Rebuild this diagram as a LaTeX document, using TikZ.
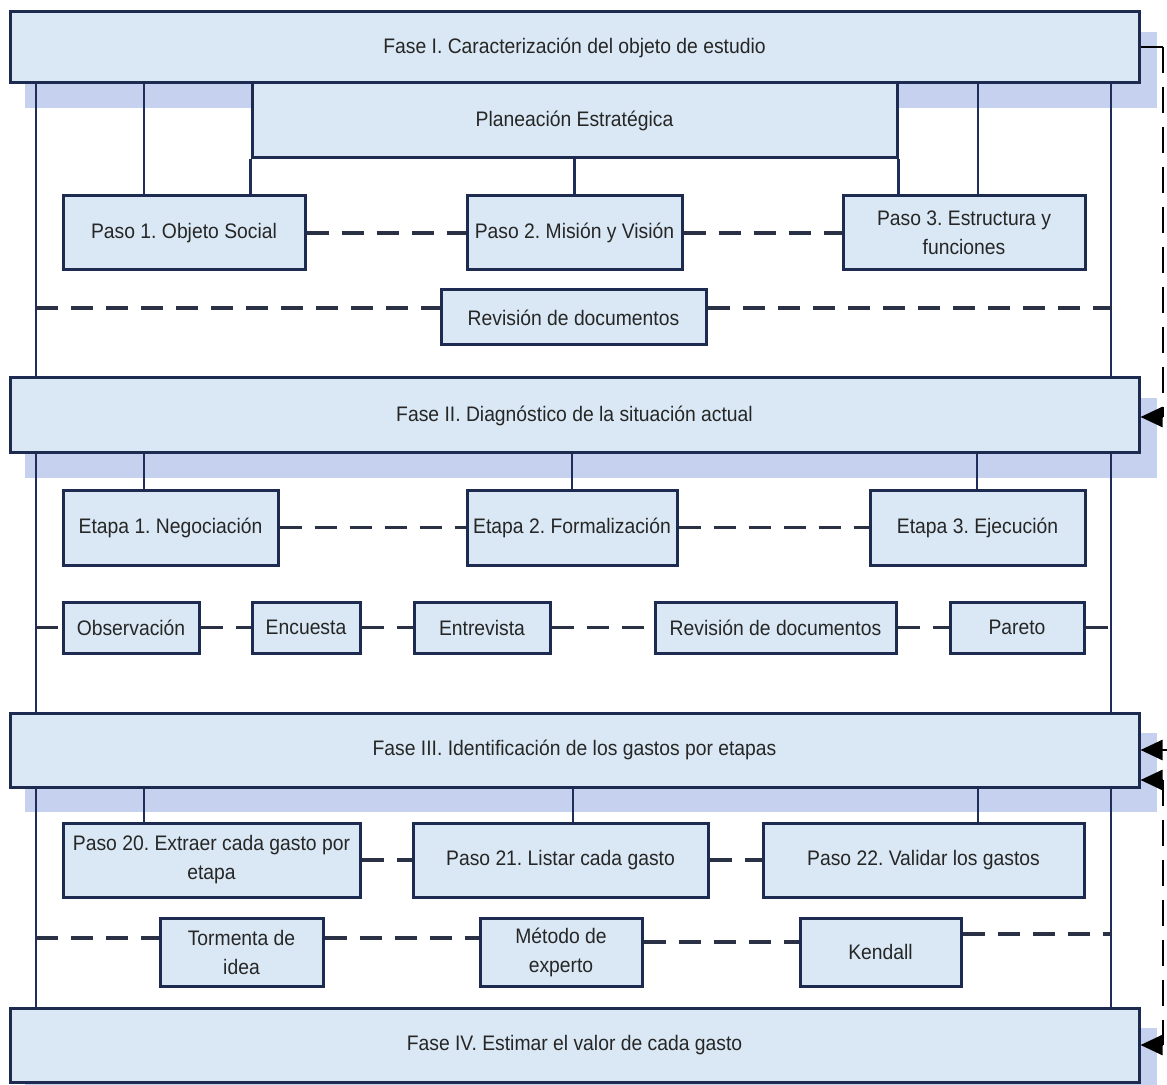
\documentclass[tikz,border=0pt]{standalone}
\usepackage{fontspec}
\setmainfont{Liberation Sans}[FakeStretch=0.92]
\usetikzlibrary{arrows.meta,calc}
\definecolor{bordc}{HTML}{1C2B4F}
\definecolor{boxc}{HTML}{D9E8F4}
\definecolor{shadc}{HTML}{C5D1EE}
\definecolor{txtc}{HTML}{262626}
\definecolor{linec}{HTML}{1E2D5A}
\definecolor{dashc}{HTML}{2A3145}
\newcommand{\mybox}[6]{\node[box, minimum width={(#4-#2)*0.5pt}, minimum height={(#5-#3)*0.5pt}] (#1) at ({(#2+#4)/2},{(#3+#5)/2}) {#6};}
\frenchspacing
\begin{document}
\begin{tikzpicture}[x=0.5pt,y=-0.5pt,
 box/.style={draw=bordc, fill=boxc, line width=1.5pt, inner sep=0pt, text=txtc, align=center, font=\fontsize{10.5}{14.5}\selectfont},
 conn/.style={draw=linec, line width=1.2pt},
 dline/.style={draw=dashc, line width=1.6pt, dash pattern=on 11pt off 6.5pt},
 rdash/.style={draw=black, line width=1.3pt, dash pattern=on 13pt off 7pt},
 arr/.style={draw=black, line width=1.3pt, -{Triangle[length=11pt,width=10pt]}},
 shad/.style={fill=shadc}]
\useasboundingbox (0,0) rectangle (1167,1085);
\fill[white] (0,0) rectangle (1167,1085);
% shadows of the phase boxes
\fill[shad] (25,32) rectangle (1157,108);
\fill[shad] (25,398) rectangle (1157,478);
\fill[shad] (25,733) rectangle (1157,812);
\fill[shad] (25,1028) rectangle (1157,1108);
% free-end coordinates
\coordinate (L) at (36,0);
\coordinate (R) at (1111,0);
% Phase I
\mybox{fase1}{10}{12}{1139}{83}{Fase I. Caracterización del objeto de estudio}
\mybox{plan}{252}{83}{897}{158}{Planeación Estratégica}
\mybox{p1}{63}{196}{305}{270}{Paso 1. Objeto Social}
\mybox{p2}{467}{196}{682}{270}{Paso 2. Misión y Visión}
\mybox{p3}{843}{196}{1085}{270}{Paso 3. Estructura y\\funciones}
\mybox{rev1}{441}{290}{706}{345}{Revisión de documentos}
% Phase II
\mybox{fase2}{10}{378}{1139}{453}{Fase II. Diagnóstico de la situación actual}
\mybox{e1}{63}{490}{278}{565}{Etapa 1. Negociación}
\mybox{e2}{467}{490}{677}{565}{Etapa 2. Formalización}
\mybox{e3}{870}{490}{1085}{565}{Etapa 3. Ejecución}
\mybox{ob}{63}{602}{199}{653}{Observación}
\mybox{en}{252}{602}{360}{653}{Encuesta}
\mybox{ent}{414}{602}{550}{653}{Entrevista}
\mybox{rev2}{655}{602}{896}{653}{Revisión de documentos}
\mybox{par}{950}{602}{1084}{653}{Pareto}
% Phase III
\mybox{fase3}{10}{713}{1139}{787}{Fase III. Identificación de los gastos por etapas}
\mybox{q20}{63}{823}{360}{897}{Paso 20. Extraer cada gasto por\\etapa}
\mybox{q21}{413}{823}{708}{897}{Paso 21. Listar cada gasto}
\mybox{q22}{763}{823}{1084}{897}{Paso 22. Validar los gastos}
\mybox{tor}{160}{918}{323}{986}{Tormenta de\\idea}
\mybox{met}{480}{918}{642}{986}{Método de\\experto}
\mybox{ken}{800}{918}{961}{986}{Kendall}
% Phase IV
\mybox{fase4}{10}{1008}{1139}{1082}{Fase IV. Estimar el valor de cada gasto}
% side rails
\draw[conn] (fase1.south -| L) -- (fase2.north -| L);
\draw[conn] (fase2.south -| L) -- (fase3.north -| L);
\draw[conn] (fase3.south -| L) -- (fase4.north -| L);
\draw[conn] (fase1.south -| R) -- (fase2.north -| R);
\draw[conn] (fase2.south -| R) -- (fase3.north -| R);
\draw[conn] (fase3.south -| R) -- (fase4.north -| R);
% Phase I links
\draw[conn] (fase1.south -| 144,0) -- (p1.north -| 144,0);
\draw[conn] (plan.south west) -- (plan.south west |- p1.north);
\draw[conn] (plan.south) -- (plan.south |- p2.north);
\draw[conn] (plan.south east) -- (plan.south east |- p3.north);
\draw[conn] (fase1.south -| 978,0) -- (p3.north -| 978,0);
\draw[dline] (p1.east) -- (p2.west);
\draw[dline] (p2.east) -- (p3.west);
\draw[dline] (L |- 0,308) -- (rev1.west |- 0,308);
\draw[dline] (rev1.east |- 0,308) -- (R |- 0,308);
% Phase II links
\draw[conn] (fase2.south -| 144,0) -- (e1.north -| 144,0);
\draw[conn] (fase2.south -| e2.north) -- (e2.north);
\draw[conn] (fase2.south -| 977,0) -- (e3.north -| 977,0);
\draw[dline] (e1.east) -- (e2.west);
\draw[dline] (e2.east) -- (e3.west);
\draw[dline] (L |- ob.west) -- (ob.west);
\draw[dline] (ob.east) -- (en.west);
\draw[dline] (en.east) -- (ent.west);
\draw[dline] (ent.east) -- (rev2.west);
\draw[dline] (rev2.east) -- (par.west);
\draw[dline] (par.east) -- (R |- par.east);
% Phase III links
\draw[conn] (fase3.south -| 144,0) -- (q20.north -| 144,0);
\draw[conn] (fase3.south -| 573,0) -- (q21.north -| 573,0);
\draw[conn] (fase3.south -| 978,0) -- (q22.north -| 978,0);
\draw[dline] (q20.east) -- (q21.west);
\draw[dline] (q21.east) -- (q22.west);
\draw[dline] (L |- 0,938) -- (tor.west |- 0,938);
\draw[dline] (tor.east |- 0,938) -- (met.west |- 0,938);
\draw[dline] (met.east |- 0,942) -- (ken.west |- 0,942);
\draw[dline] (ken.east |- 0,934) -- (R |- 0,934);
% right-hand feedback arrows
\coordinate (k1) at (1163,47);
\coordinate (k2) at (1163,417);
\coordinate (k3) at (1167,750);
\coordinate (k4) at (1163,780);
\coordinate (k5) at (1163,1045);
\draw[black, line width=1.3pt] (fase1.east |- k1) -- (k1);
\draw[rdash] (k1) -- (k2);
\draw[arr] (k2) -- (fase2.east |- k2);
\draw[arr] (k3) -- (fase3.east |- k3);
\draw[rdash] (k4) -- (k5);
\draw[arr] (k4) -- (fase3.east |- k4);
\draw[arr] (k5) -- (fase4.east |- k5);
\end{tikzpicture}
\end{document}
